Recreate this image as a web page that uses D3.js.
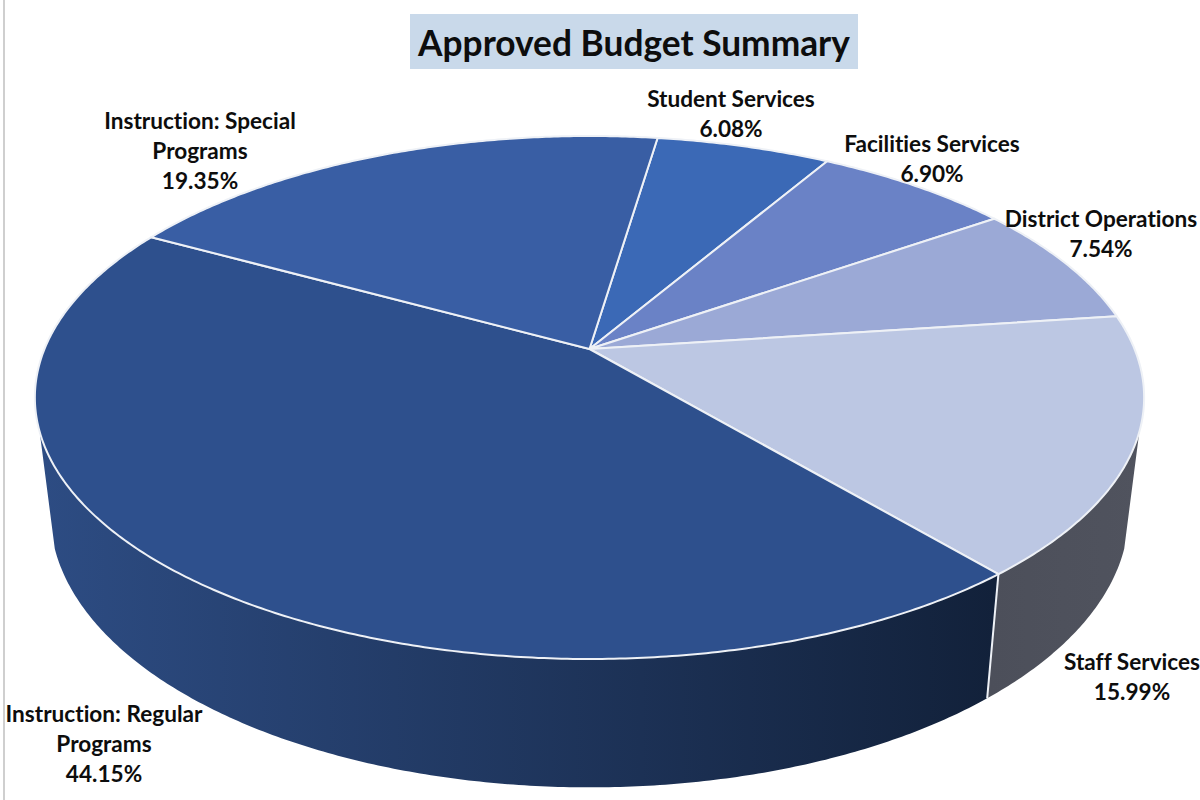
<!DOCTYPE html>
<html>
<head>
<meta charset="utf-8">
<script src="https://cdn.jsdelivr.net/npm/d3@7"></script>
<style>
html,body{margin:0;padding:0;background:#fff;}
svg{display:block;}
text{font-family:Lato,"Open Sans",sans-serif;font-weight:700;fill:#0d0d0d;text-anchor:middle;font-variant-ligatures:none;}
</style>
</head>
<body>
<svg id="chart" width="1200" height="800"></svg>
<script>
// Budget shares, clockwise from the Student Services slice
const categories = ["Student Services","Facilities Services","District Operations","Staff Services","Instruction: Regular Programs","Instruction: Special Programs"];
const shares = [6.08, 6.90, 7.54, 15.99, 44.15, 19.35];
const topColors = ["#3b69b6","#6a82c6","#9ba9d6","#bcc7e3","#2e508d","#395ea4"];
const labelLines = [
  ["Student Services","6.08%"],
  ["Facilities Services","6.90%"],
  ["District Operations","7.54%"],
  ["Staff Services","15.99%"],
  ["Instruction: Regular","Programs","44.15%"],
  ["Instruction: Special","Programs","19.35%"]
];
const titleText = "Approved Budget Summary";

const svg = d3.select("#chart");
const deg = Math.PI / 180;

// Perspective disc: far edge shrinks, near edge grows
const persp = 0.1855;
const topPlane = {cx: 589.5, cy: 349, rx: 545, ry: 252.5};
const bottomPlane = {cx: 589.5, cy: 462, rx: 530, ry: 265};
function project(plane, a) {
  const d = Math.cos(a), u = Math.sin(a), s = 1 / (1 + persp * d);
  return [plane.cx + plane.rx * u * s, plane.cy - plane.ry * d * s];
}
const line = d3.line();

function arcPoints(plane, a0, a1) {
  const n = Math.max(2, Math.ceil(Math.abs(a1 - a0) / (0.5 * deg)));
  return d3.range(n + 1).map(i => project(plane, a0 + (a1 - a0) * i / n));
}

const pie = d3.pie().sort(null).value(d => d)
  .startAngle(8.5 * deg).endAngle(368.5 * deg);
const slices = pie(shares);

// Left page rule
svg.append("rect").attr("x", 3).attr("y", 0).attr("width", 2).attr("height", 800).attr("fill", "#cfcfcf");

// Shaded gradients for the wall
const defs = svg.append("defs");
const sideRamps = {
  3: ["side-staff", 990, 1140, "#4c4f5a", "#50535e"],
  4: ["side-regular", 40, 995, "#2d4c83", "#12213a"]
};
Object.values(sideRamps).forEach(([id, x1, x2, c1, c2]) => {
  const g = defs.append("linearGradient").attr("id", id)
    .attr("gradientUnits", "userSpaceOnUse")
    .attr("x1", x1).attr("x2", x2).attr("y1", 0).attr("y2", 0);
  g.append("stop").attr("offset", 0).attr("stop-color", c1);
  g.append("stop").attr("offset", 1).attr("stop-color", c2);
});

// Visible wall runs between the two silhouette angles
const wallStart = 108 * deg, wallEnd = 252 * deg;
slices.forEach((s, i) => {
  const a0 = Math.max(s.startAngle, wallStart), a1 = Math.min(s.endAngle, wallEnd);
  if (a1 <= a0 || !sideRamps[i]) return;
  const outline = arcPoints(topPlane, a0, a1).concat(arcPoints(bottomPlane, a1, a0));
  svg.append("path").attr("d", line(outline) + "Z").attr("fill", `url(#${sideRamps[i][0]})`);
});

// Divider on the wall between Staff Services and the regular programs
const seam = slices[3].endAngle;
svg.append("path").attr("d", line([project(topPlane, seam), project(bottomPlane, seam)]))
  .attr("stroke", "#eef1f6").attr("stroke-width", 2).attr("fill", "none");

// Top face wedges
const apex = [topPlane.cx, topPlane.cy];
svg.selectAll("path.wedge").data(slices).join("path")
  .attr("class", "wedge")
  .attr("d", s => line([apex].concat(arcPoints(topPlane, s.startAngle, s.endAngle))) + "Z")
  .attr("fill", (s, i) => topColors[i])
  .attr("stroke", "#eef1f6").attr("stroke-width", 2).attr("stroke-linejoin", "round");

// Title with its tinted plate
svg.append("rect").attr("x", 410).attr("y", 14).attr("width", 448).attr("height", 55).attr("fill", "#c9d9ea");
svg.append("text").attr("x", 634).attr("y", 56).attr("font-size", 35.3).text(titleText);

// Slice labels
const labelAnchors = [[731,107],[932,152],[1101,227],[1132,670],[104,722],[200,129]];
svg.selectAll("g.label").data(labelLines).join("g")
  .attr("class", "label")
  .attr("transform", (d, i) => `translate(${labelAnchors[i][0]},${labelAnchors[i][1]})`)
  .selectAll("text").data(d => d).join("text")
  .attr("y", (d, i) => i * 30).attr("font-size", 22.6).text(d => d);
</script>
</body>
</html>
